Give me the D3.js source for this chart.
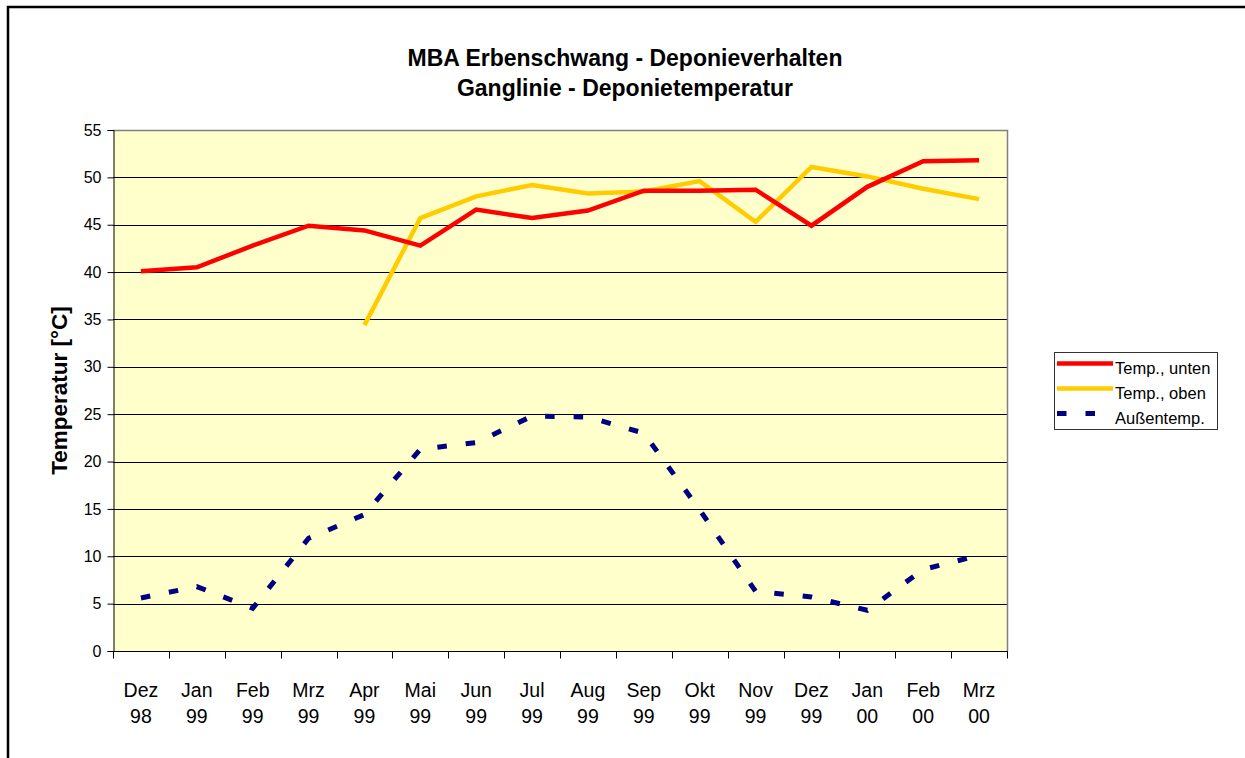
<!DOCTYPE html>
<html>
<head>
<meta charset="utf-8">
<script src="https://cdn.jsdelivr.net/npm/d3@7"></script>
<style>
  body { margin: 0; background: #fff; }
  svg { display: block; font-family: "Liberation Sans", Arial, sans-serif; }
</style>
</head>
<body>
<div id="chart"></div>
<script>
// categories (two-line labels: month / year)
var months = ['Dez', 'Jan', 'Feb', 'Mrz', 'Apr', 'Mai', 'Jun', 'Jul', 'Aug', 'Sep', 'Okt', 'Nov', 'Dez', 'Jan', 'Feb', 'Mrz'];
var years = ['98', '99', '99', '99', '99', '99', '99', '99', '99', '99', '99', '99', '99', '00', '00', '00'];

// series values in °C
var tempUnten = [40.1, 40.5, 42.8, 44.9, 44.4, 42.8, 46.6, 45.7, 46.5, 48.6, 48.6, 48.7, 44.9, 49.0, 51.7, 51.8];
var tempOben = [null, null, null, null, 34.4, 45.7, 48.0, 49.2, 48.3, 48.5, 49.6, 45.3, 51.1, 50.1, 48.8, 47.7];
var aussenTemp = [5.6, 6.8, 4.5, 11.9, 14.4, 21.3, 22.0, 24.8, 24.7, 23.0, 14.9, 6.3, 5.7, 4.3, 8.6, 10.1];

var yTicks = [0, 5, 10, 15, 20, 25, 30, 35, 40, 45, 50, 55];

var series = [
    { name: 'Temp., unten', values: tempUnten, color: '#ff0000', dash: null },
    { name: 'Temp., oben', values: tempOben, color: '#ffcc00', dash: null },
    { name: 'Außentemp.', values: aussenTemp, color: '#000080', dash: '9.5,19' }
];

var W = 1245, H = 758;
var plot = { left: 113, right: 1007, top: 130, bottom: 651 };

var svg = d3.select('#chart').append('svg')
    .attr('width', W)
    .attr('height', H);

svg.append('rect').attr('width', W).attr('height', H).attr('fill', '#fff');

// outer chart frame (runs off right and bottom edges)
svg.append('rect')
    .attr('x', 8).attr('y', 7)
    .attr('width', W + 20).attr('height', H + 20)
    .attr('fill', 'none')
    .attr('stroke', '#000')
    .attr('stroke-width', 2.5);

var x = d3.scaleBand()
    .domain(d3.range(months.length))
    .range([plot.left, plot.right])
    .padding(0);

var y = d3.scaleLinear()
    .domain([0, 55])
    .range([plot.bottom, plot.top]);

// plot background
svg.append('rect')
    .attr('x', plot.left).attr('y', plot.top)
    .attr('width', plot.right - plot.left)
    .attr('height', plot.bottom - plot.top)
    .attr('fill', '#ffffcc');

// gridlines
svg.append('g')
    .selectAll('line')
    .data(yTicks.filter(function (d) { return d > 0 && d < 55; }))
    .enter()
    .append('line')
    .attr('x1', plot.left).attr('x2', plot.right)
    .attr('y1', function (d) { return Math.round(y(d)) + 0.5; })
    .attr('y2', function (d) { return Math.round(y(d)) + 0.5; })
    .attr('stroke', '#000')
    .attr('stroke-width', 1);

// top and right border of plot area
svg.append('path')
    .attr('d', 'M' + plot.left + ',' + (plot.top + 0.5) + 'H' + (plot.right + 0.5) + 'V' + plot.bottom)
    .attr('fill', 'none')
    .attr('stroke', '#808080')
    .attr('stroke-width', 1.5);

// y axis
var yAxis = svg.append('g')
    .attr('transform', 'translate(' + (plot.left + 0.5) + ',0)')
    .call(d3.axisLeft(y).tickValues(yTicks).tickSize(6).tickPadding(6));
yAxis.select('.domain').attr('stroke', '#000');
yAxis.selectAll('.tick line').attr('stroke', '#000');
yAxis.selectAll('text')
    .attr('font-size', 16)
    .attr('font-family', '"Liberation Sans", Arial, sans-serif')
    .attr('fill', '#000');

// x axis with ticks between categories
var xAxisG = svg.append('g')
    .attr('transform', 'translate(0,' + (plot.bottom + 0.5) + ')');
xAxisG.append('line')
    .attr('x1', plot.left).attr('x2', plot.right + 1)
    .attr('stroke', '#000');
xAxisG.selectAll('line.tick')
    .data(d3.range(months.length + 1))
    .enter()
    .append('line')
    .attr('class', 'tick')
    .attr('x1', function (i) { return Math.round(plot.left + i * x.step()) + 0.5; })
    .attr('x2', function (i) { return Math.round(plot.left + i * x.step()) + 0.5; })
    .attr('y1', 0).attr('y2', 7)
    .attr('stroke', '#000');
var xLab = xAxisG.selectAll('text.lab')
    .data(months)
    .enter()
    .append('text')
    .attr('class', 'lab')
    .attr('text-anchor', 'middle')
    .attr('font-size', 19.5)
    .attr('fill', '#000')
    .attr('transform', function (d, i) { return 'translate(' + (x(i) + x.bandwidth() / 2) + ',0)'; });
xLab.append('tspan').attr('x', 0).attr('y', 45).text(function (d) { return d; });
xLab.append('tspan').attr('x', 0).attr('y', 71).text(function (d, i) { return years[i]; });

// lines
var line = d3.line()
    .defined(function (d) { return d != null; })
    .x(function (d, i) { return x(i) + x.bandwidth() / 2; })
    .y(function (d) { return y(d); });

svg.append('g')
    .selectAll('path')
    .data(series.slice().reverse())
    .enter()
    .append('path')
    .attr('d', function (s) { return line(s.values); })
    .attr('fill', 'none')
    .attr('stroke', function (s) { return s.color; })
    .attr('stroke-width', function (s) { return s.dash ? 5 : 4.5; })
    .attr('stroke-dasharray', function (s) { return s.dash; })
    .attr('stroke-linejoin', 'miter');

// title
svg.append('text')
    .attr('x', 625).attr('y', 66)
    .attr('text-anchor', 'middle')
    .attr('font-size', 23).attr('font-weight', 'bold')
    .text('MBA Erbenschwang - Deponieverhalten');
svg.append('text')
    .attr('x', 625).attr('y', 96)
    .attr('text-anchor', 'middle')
    .attr('font-size', 23).attr('font-weight', 'bold')
    .text('Ganglinie - Deponietemperatur');

// y axis title
svg.append('text')
    .attr('transform', 'translate(67,' + ((plot.top + plot.bottom) / 2) + ') rotate(-90)')
    .attr('text-anchor', 'middle')
    .attr('font-size', 22.5).attr('font-weight', 'bold')
    .text('Temperatur [°C]');

// legend
var legend = svg.append('g').attr('transform', 'translate(1054,352)');
legend.append('rect')
    .attr('x', 0.5).attr('y', 0.5)
    .attr('width', 163).attr('height', 77)
    .attr('fill', '#fff')
    .attr('stroke', '#333');
var item = legend.selectAll('g.item')
    .data(series)
    .enter()
    .append('g')
    .attr('class', 'item')
    .attr('transform', function (d, i) { return 'translate(0,' + (11.5 + i * 25) + ')'; });
item.append('line')
    .attr('x1', 3).attr('x2', 59)
    .attr('stroke', function (d) { return d.color; })
    .attr('stroke-width', function (d) { return d.dash ? 5 : 4.5; })
    .attr('stroke-dasharray', function (d) { return d.dash; });
item.append('text')
    .attr('x', 61).attr('y', 10.5)
    .attr('font-size', 16.5)
    .text(function (d) { return d.name; });
</script>
</body>
</html>
